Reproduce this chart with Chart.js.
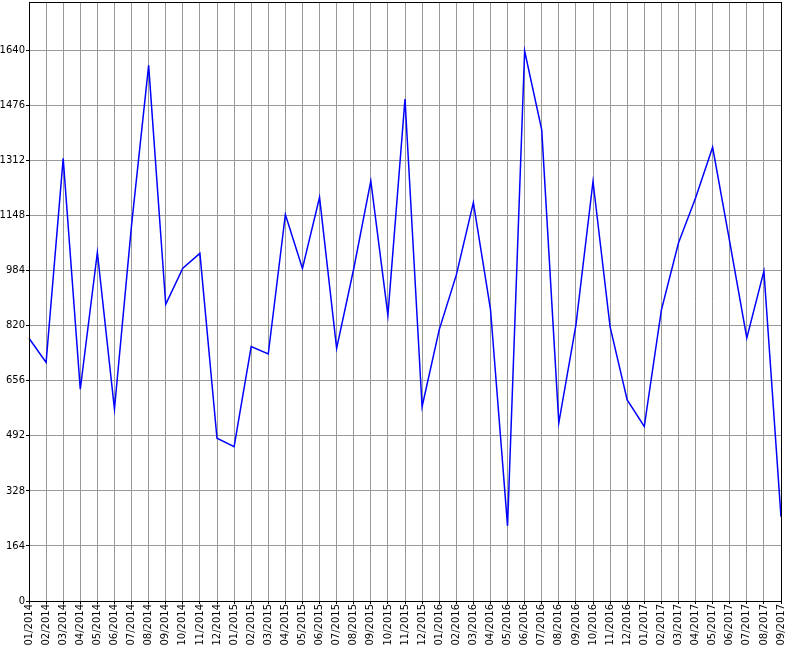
<!DOCTYPE html>
<html lang="en">
  <head>
    <meta charset="UTF-8"/>
    <title>Monthly series</title>
    <script src="https://cdn.jsdelivr.net/npm/chart.js@4.4.0/dist/chart.umd.min.js"></script>
    <style>
      html, body { margin: 0; padding: 0; background: #fff; }
      #wrap { width: 800px; height: 650px; }
    </style>
  </head>
  <body>
    <div id="wrap"><canvas id="Chart" width="800" height="650"></canvas></div>
    <script>
      // months shown on the x axis
      var months = ['01/2014','02/2014','03/2014','04/2014','05/2014','06/2014','07/2014','08/2014','09/2014','10/2014','11/2014','12/2014',
                    '01/2015','02/2015','03/2015','04/2015','05/2015','06/2015','07/2015','08/2015','09/2015','10/2015','11/2015','12/2015',
                    '01/2016','02/2016','03/2016','04/2016','05/2016','06/2016','07/2016','08/2016','09/2016','10/2016','11/2016','12/2016',
                    '01/2017','02/2017','03/2017','04/2017','05/2017','06/2017','07/2017','08/2017','09/2017'];
      // values
      var values = [783, 711, 1319, 631, 1039, 572, 1120, 1596, 884, 992, 1036, 485,
                    460, 758, 736, 1152, 991, 1203, 753, 990, 1252, 852, 1496, 579,
                    808, 971, 1187, 870, 224, 1639, 1404, 531, 822, 1250, 817, 599,
                    520, 867, 1067, 1201, 1352, 1070, 784, 983, 251];
      // y tick labels
      var yTicks = [0, 164, 328, 492, 656, 820, 984, 1148, 1312, 1476, 1640];
      var yMax = 1785;

      // black frame round the plot
      var frame = {
        id: 'frame',
        afterDraw: function(chart){
          var a = chart.chartArea, ctx = chart.ctx;
          ctx.save();
          ctx.strokeStyle = '#000';
          ctx.lineWidth = 1;
          ctx.strokeRect(Math.round(a.left) + 0.5, Math.round(a.top) + 0.5, Math.round(a.right - a.left), Math.round(a.bottom - a.top));
          ctx.restore();
        }
      };

      var ctx = document.getElementById('Chart').getContext('2d');
      var chart = new Chart(ctx, {
        type: 'line',
        data: {
          labels: months,
          datasets: [{
            label: 'Value',
            data: values,
            borderColor: '#0000ff',
            borderWidth: 1.5,
            pointRadius: 0,
            tension: 0,
            fill: false
          }]
        },
        options: {
          responsive: false,
          animation: false,
          layout: { padding: { top: 2, right: 19, left: 0, bottom: 0 } },
          plugins: { legend: { display: false }, tooltip: { enabled: false } },
          scales: {
            x: {
              offset: false,
              grid: { color: '#999999', lineWidth: 1, tickLength: 3, tickColor: '#000' },
              border: { color: '#000' },
              ticks: {
                autoSkip: false, maxRotation: 90, minRotation: 90, padding: 0,
                color: '#000', font: { family: 'DejaVu Sans', size: 10 }
              },
              afterFit: function(s){ s.height = 49; s.paddingLeft = 0; s.paddingRight = 0; }
            },
            y: {
              min: 0,
              max: yMax,
              grid: { color: '#999999', lineWidth: 1, tickLength: 3, tickColor: '#000' },
              border: { color: '#000' },
              ticks: {
                padding: 1, color: '#000',
                font: { family: 'DejaVu Sans', size: 10 },
                callback: function(v){ return String(v); }
              },
              afterBuildTicks: function(s){ s.ticks = yTicks.map(function(v){ return { value: v }; }); },
              afterFit: function(s){ s.width = 29; s.paddingTop = 0; s.paddingBottom = 0; }
            }
          }
        },
        plugins: [frame]
      });
    </script>
  </body>
</html>
